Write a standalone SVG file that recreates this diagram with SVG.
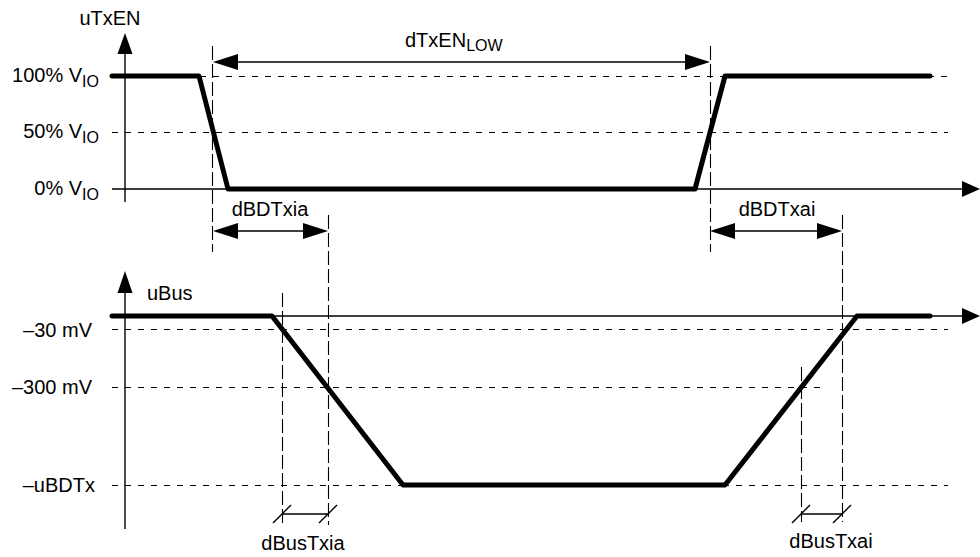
<svg xmlns="http://www.w3.org/2000/svg" width="980" height="557" viewBox="0 0 980 557">
<style>
text{font-family:"Liberation Sans",Arial,sans-serif;font-size:20px;fill:#000}
.sub{font-size:16px}
.axis{stroke:#000;stroke-width:1.4;fill:none}
.sig{stroke:#000;stroke-width:5;fill:none;stroke-linecap:round;stroke-linejoin:round}
.hd{stroke:#000;stroke-width:1.1;fill:none;stroke-dasharray:6 7}
.vd{stroke:#000;stroke-width:1.1;fill:none;stroke-dasharray:14 4}
.dim{stroke:#000;stroke-width:1.4;fill:none}
.ah{fill:#000;stroke:none}
</style>
<rect width="980" height="557" fill="#fff"/>
<g id="connectors">
<line class="hd" x1="200" y1="76.5" x2="948" y2="76.5"/>
<line class="hd" x1="112" y1="132.5" x2="948" y2="132.5"/>
<line class="hd" x1="112" y1="329.5" x2="948" y2="329.5"/>
<line class="hd" x1="112" y1="387.5" x2="820" y2="387.5"/>
<line class="hd" x1="112" y1="485.5" x2="948" y2="485.5"/>
<line class="vd" x1="212.5" y1="46" x2="212.5" y2="252"/>
<line class="vd" x1="710.5" y1="46" x2="710.5" y2="252"/>
<line class="vd" x1="328.5" y1="215" x2="328.5" y2="525"/>
<line class="vd" x1="842.5" y1="215" x2="842.5" y2="522"/>
<line class="vd" x1="282.5" y1="293" x2="282.5" y2="524"/>
<line class="vd" x1="801.5" y1="367" x2="801.5" y2="522"/>
</g>
<g id="axis-top">
<line class="axis" x1="125" y1="50" x2="125" y2="202"/>
<polygon class="ah" points="125,33 117.5,54 132.5,54"/>
<line class="axis" x1="112" y1="189" x2="965" y2="189"/>
<polygon class="ah" points="980,189 962,181 962,197"/>
<text x="110" y="25" text-anchor="middle">uTxEN</text>
<text x="99" y="82" text-anchor="end">100% V<tspan class="sub" dy="5">IO</tspan></text>
<text x="99" y="138" text-anchor="end">50% V<tspan class="sub" dy="5">IO</tspan></text>
<text x="99" y="195" text-anchor="end">0% V<tspan class="sub" dy="5">IO</tspan></text>
</g>
<g id="axis-bottom">
<line class="axis" x1="125" y1="290" x2="125" y2="529"/>
<polygon class="ah" points="125,271 117.5,293 132.5,293"/>
<line class="axis" x1="112" y1="316" x2="965" y2="316"/>
<polygon class="ah" points="980,316 962,308 962,324"/>
<text x="147" y="300">uBus</text>
<text x="92" y="337" text-anchor="end">–30 mV</text>
<text x="92" y="394" text-anchor="end">–300 mV</text>
<text x="95" y="492" text-anchor="end">–uBDTx</text>
</g>
<g id="signal-txen">
<polyline class="sig" points="112,76 199,76 228,189 695,189 725,76 930,76"/>
</g>
<g id="signal-bus">
<polyline class="sig" points="112,316 272,316 403,485 725,485 857,316 930,316"/>
</g>
<g id="dim-dTxEN">
<line class="dim" x1="230" y1="62" x2="692" y2="62"/>
<polygon class="ah" points="213,62 238,54 238,70"/>
<polygon class="ah" points="710,62 685,54 685,70"/>
<text x="405" y="47">dTxEN<tspan class="sub" dy="4">LOW</tspan></text>
</g>
<g id="dim-dBDTxia">
<line class="dim" x1="230" y1="231" x2="310" y2="231"/>
<polygon class="ah" points="213,231 238,223 238,239"/>
<polygon class="ah" points="328,231 303,223 303,239"/>
<text x="270" y="216" text-anchor="middle">dBDTxia</text>
</g>
<g id="dim-dBDTxai">
<line class="dim" x1="727" y1="231" x2="825" y2="231"/>
<polygon class="ah" points="710,231 735,223 735,239"/>
<polygon class="ah" points="842,231 817,223 817,239"/>
<text x="777" y="216" text-anchor="middle">dBDTxai</text>
</g>
<g id="dim-dBusTxia">
<line class="dim" x1="282" y1="514" x2="328" y2="514"/>
<line class="dim" x1="273" y1="523" x2="291" y2="505"/>
<line class="dim" x1="319" y1="523" x2="337" y2="505"/>
<text x="303" y="550" text-anchor="middle">dBusTxia</text>
</g>
<g id="dim-dBusTxai">
<line class="dim" x1="801" y1="514" x2="842" y2="514"/>
<line class="dim" x1="792" y1="523" x2="810" y2="505"/>
<line class="dim" x1="833" y1="523" x2="851" y2="505"/>
<text x="831" y="548" text-anchor="middle">dBusTxai</text>
</g>
</svg>
